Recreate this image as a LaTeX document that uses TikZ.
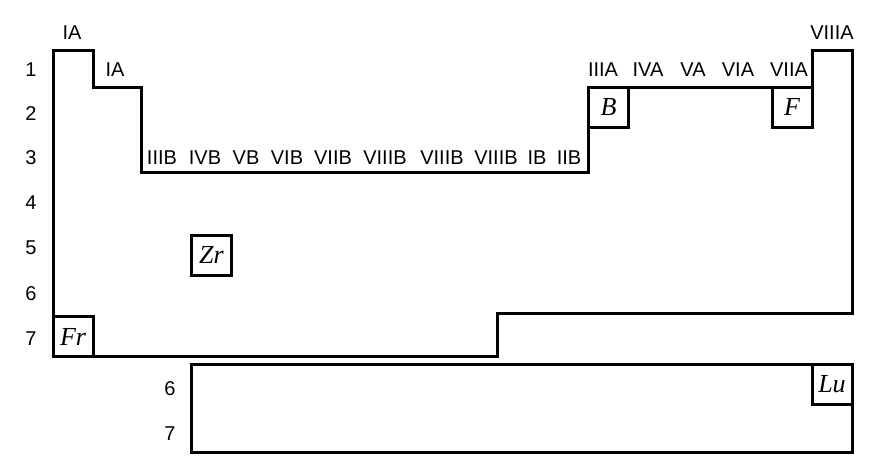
\documentclass[tikz,border=0pt]{standalone}
\usepackage{fontspec}
\setmainfont{Liberation Serif}
\setsansfont{Liberation Sans}
\begin{document}
\begin{tikzpicture}[x=1pt,y=-1pt,
  outline/.style={draw=black,line width=3pt,line join=miter},
  lab/.style={font=\sffamily\fontsize{20}{20}\selectfont,inner sep=0pt,text height=14.3pt,text depth=0pt},
  elem/.style={draw=black,line width=3pt,inner sep=0pt,minimum width=40pt,minimum height=40pt,
    font=\itshape\fontsize{26}{26}\selectfont,text height=17pt,text depth=0pt}]
\useasboundingbox (0,0) rectangle (894,461);
% main outline
\draw[outline] (53,50) -- (93,50) -- (93,87) -- (141,87) -- (141,172) -- (588,172) -- (588,87)
  -- (812,87) -- (812,50) -- (852,50) -- (852,313) -- (497,313) -- (497,356) -- (53,356) -- cycle;
% lanthanide/actinide block
\draw[outline] (191,364) rectangle (852,452);
% element boxes
\node[elem] (B) at (608.5,107) {B};
\node[elem] (F) at (792,107) {F};
\node[elem] (Fr) at (73,336.5) {Fr};
\node[elem] (Zr) at (211.5,255) {Zr};
\node[elem] (Lu) at (832,384) {Lu};
% period labels
\node[lab] (p1) at (31,69) {1};
\node[lab] (p2) at (31,113) {2};
\node[lab] (p3) at (31,157) {3};
\node[lab] (p4) at (31,202) {4};
\node[lab] (p5) at (31,247) {5};
\node[lab] (p6) at (31,293) {6};
\node[lab] (p7) at (31,338) {7};
\node[lab] (q6) at (170,388) {6};
\node[lab] (q7) at (170,433) {7};
% group labels
\node[lab] (g1) at (72,32) {IA};
\node[lab] (g2) at (115,69) {IA};
\node[lab] (g3) at (162,157) {IIIB};
\node[lab] (g4) at (205,157) {IVB};
\node[lab] (g5) at (246,157) {VB};
\node[lab] (g6) at (287,157) {VIB};
\node[lab] (g7) at (333,157) {VIIB};
\node[lab] (g8) at (385,157) {VIIIB};
\node[lab] (g9) at (442,157) {VIIIB};
\node[lab] (g10) at (496,157) {VIIIB};
\node[lab] (g11) at (537,157) {IB};
\node[lab] (g12) at (569,157) {IIB};
\node[lab] (g13) at (603,69) {IIIA};
\node[lab] (g14) at (648,69) {IVA};
\node[lab] (g15) at (693,69) {VA};
\node[lab] (g16) at (738,69) {VIA};
\node[lab] (g17) at (789,69) {VIIA};
\node[lab] (g18) at (832,32) {VIIIA};
\end{tikzpicture}
\end{document}
